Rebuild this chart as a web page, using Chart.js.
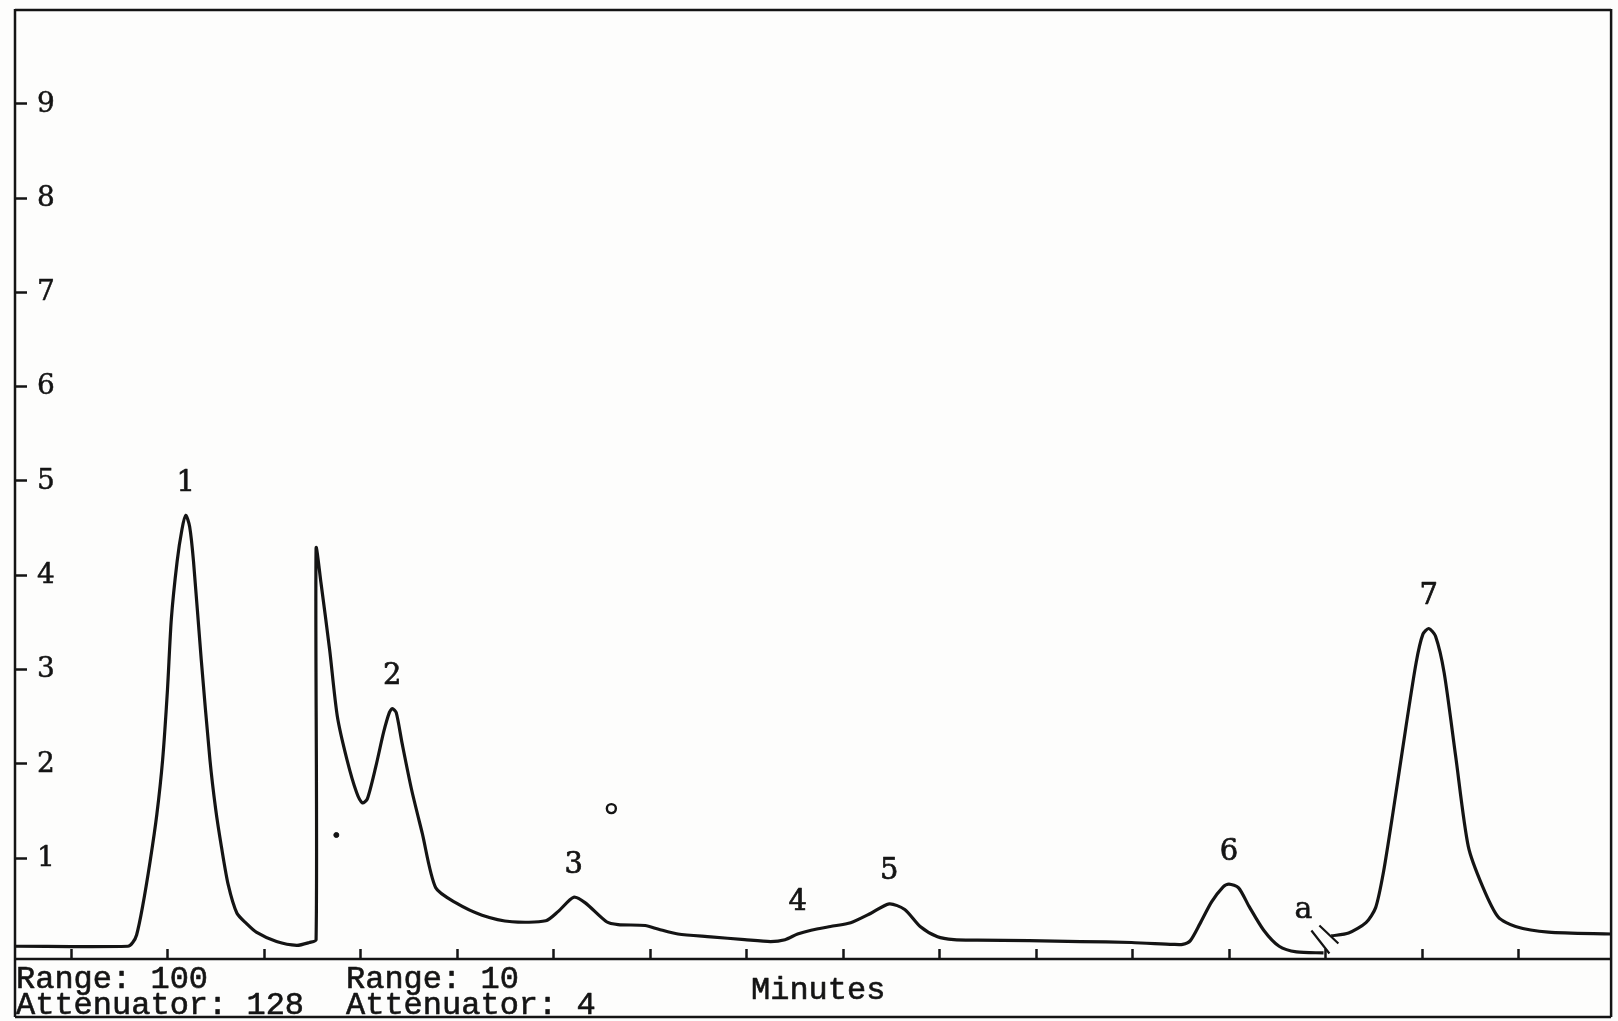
<!DOCTYPE html>
<html>
<head>
<meta charset="utf-8">
<title>Chromatogram</title>
<script src="https://cdn.jsdelivr.net/npm/chart.js@4/dist/chart.umd.min.js"></script>
<style>
  html, body { margin: 0; padding: 0; background: #fdfdfc; }
  canvas { display: block; }
</style>
</head>
<body>
<canvas id="chrom" width="1618" height="1021"></canvas>
<script>
// Recorder trace: retention time (minutes) and detector response (chart divisions).
// A null response lifts the pen where the trace is broken.
const minutes = [
  -0.58, 0.59, 0.64, 0.68, 0.74, 0.82, 0.89, 0.95, 1.00, 1.04, 1.10, 1.15, 1.19, 1.23, 1.27,
  1.35, 1.44, 1.50, 1.56, 1.63, 1.72, 1.82, 1.92, 2.13, 2.34, 2.47, 2.54, 2.54, 2.59, 2.68,
  2.76, 2.86, 2.96, 3.02, 3.07, 3.16, 3.24, 3.30, 3.33, 3.37, 3.43, 3.53, 3.64, 3.78, 3.99,
  4.26, 4.57, 4.92, 5.05, 5.21, 5.33, 5.55, 5.67, 5.95, 6.09, 6.29, 6.63, 6.98, 7.25, 7.40,
  7.53, 7.67, 7.87, 8.08, 8.29, 8.48, 8.64, 8.80, 8.98, 9.15, 9.39, 9.93, 10.46, 10.99, 11.42,
  11.52, 11.60, 11.70, 11.82, 11.94, 12.00, 12.10, 12.21, 12.36, 12.52, 12.70, 12.98, 13.02, 13.06, 13.24,
  13.42, 13.52, 13.60, 13.70, 13.83, 13.94, 14.01, 14.07, 14.14, 14.23, 14.35, 14.48, 14.63, 14.79, 14.97,
  15.31, 15.96
];
const response = [
  0.06, 0.06, 0.10, 0.18, 0.47, 0.96, 1.46, 2.04, 2.78, 3.53, 4.14, 4.48, 4.63, 4.51, 4.14,
  3.10, 2.04, 1.51, 1.11, 0.71, 0.41, 0.30, 0.21, 0.11, 0.07, 0.10, 0.13, 4.28, 3.92, 3.21,
  2.50, 2.04, 1.69, 1.58, 1.62, 1.97, 2.33, 2.54, 2.58, 2.54, 2.22, 1.72, 1.26, 0.68, 0.52,
  0.39, 0.32, 0.33, 0.43, 0.58, 0.52, 0.32, 0.29, 0.28, 0.24, 0.19, 0.16, 0.13, 0.11, 0.13,
  0.19, 0.23, 0.27, 0.31, 0.41, 0.51, 0.45, 0.27, 0.16, 0.13, 0.125, 0.12, 0.11, 0.10, 0.08,
  0.08, 0.12, 0.30, 0.53, 0.69, 0.72, 0.68, 0.48, 0.23, 0.06, 0.00, -0.01, null, 0.17, 0.20,
  0.31, 0.47, 0.84, 1.48, 2.36, 3.07, 3.37, 3.43, 3.35, 2.96, 2.07, 1.12, 0.69, 0.37, 0.27,
  0.21, 0.19
];

// Numbered peaks: retention time and apex height
const peakNames = ['1', '2', '3', '4', '5', '6', '7'];
const peakMinutes = [1.19, 3.33, 5.21, 7.53, 8.48, 12.00, 14.07];
const peakHeights = [4.63, 2.58, 0.58, 0.19, 0.51, 0.72, 3.43];

// Break in the trace, marked "a"
const breakNames = ['a'];
const breakMinutes = [13.02];
const breakLevels = [0.10];

// Small pen marks on the chart paper
const dotMinutes = [2.75];
const dotLevels = [1.24];
const ringMinutes = [5.60];
const ringLevels = [1.52];

// Axis ticks
const xTickMinutes = [0, 1, 2, 3, 4, 5, 6, 7, 8, 9, 10, 11, 12, 13, 14, 15];
const yTickValues = [1, 2, 3, 4, 5, 6, 7, 8, 9];
const yTickLabels = ['1', '2', '3', '4', '5', '6', '7', '8', '9'];

// Instrument settings printed under the time axis
const settingNotes = [
  ['Range: 100', 'Attenuator: 128'],
  ['Range: 10', 'Attenuator: 4']
];
const timeAxisTitle = 'Minutes';

const INK = '#141414';
const SERIF = '"DejaVu Serif", "Liberation Serif", serif';
const MONO = '"Liberation Mono", "DejaVu Sans Mono", monospace';

// filled text with a hairline outline, for the heavier pen lettering
function inkText(ctx, text, x, y, weight) {
  ctx.fillText(text, x, y);
  ctx.lineWidth = weight;
  ctx.strokeText(text, x, y);
}

const recorderPaper = {
  id: 'recorderPaper',
  beforeDraw(chart) {
    const { ctx, width, height } = chart;
    ctx.save();
    ctx.fillStyle = '#fdfdfc';
    ctx.fillRect(0, 0, width, height);
    ctx.restore();
  },
  afterDraw(chart) {
    const { ctx, chartArea: a, scales: { x, y } } = chart;
    const frameBottom = chart.height - 4;
    ctx.save();
    ctx.strokeStyle = INK;
    ctx.fillStyle = INK;
    ctx.lineCap = 'butt';
    ctx.lineJoin = 'round';

    // frame and time axis
    ctx.lineWidth = 2.5;
    ctx.beginPath();
    ctx.moveTo(a.left, a.top + 1); ctx.lineTo(a.right, a.top + 1);
    ctx.moveTo(a.left, a.top); ctx.lineTo(a.left, frameBottom);
    ctx.moveTo(a.right, a.top); ctx.lineTo(a.right, frameBottom);
    ctx.moveTo(a.left, frameBottom); ctx.lineTo(a.right, frameBottom);
    ctx.moveTo(a.left, a.bottom); ctx.lineTo(a.right, a.bottom);
    ctx.stroke();

    // minute ticks, pointing up from the time axis
    ctx.beginPath();
    xTickMinutes.forEach(m => {
      const px = Math.round(x.getPixelForValue(m)) + 0.5;
      ctx.moveTo(px, a.bottom);
      ctx.lineTo(px, a.bottom - 10);
    });
    ctx.stroke();

    // response ticks and their numbers, inside the frame
    ctx.beginPath();
    yTickValues.forEach(v => {
      const py = Math.round(y.getPixelForValue(v)) + 0.5;
      ctx.moveTo(a.left, py);
      ctx.lineTo(a.left + 12, py);
    });
    ctx.stroke();
    ctx.font = '28px ' + SERIF;
    ctx.textAlign = 'left';
    ctx.textBaseline = 'middle';
    yTickValues.forEach((v, i) => {
      inkText(ctx, yTickLabels[i], a.left + 22, y.getPixelForValue(v) + 1, 0.5);
    });

    // peak numbers above each apex
    ctx.font = '29px ' + SERIF;
    ctx.textAlign = 'center';
    peakNames.forEach((name, i) => {
      inkText(ctx, name, x.getPixelForValue(peakMinutes[i]), y.getPixelForValue(peakHeights[i]) - 32, 0.7);
    });

    // break marks "//" with their letter
    breakMinutes.forEach((m, i) => {
      const cx = x.getPixelForValue(m);
      const cy = y.getPixelForValue(breakLevels[i]);
      ctx.lineWidth = 2.2;
      ctx.beginPath();
      ctx.moveTo(cx - 16, cy - 12); ctx.lineTo(cx + 2, cy + 11);
      ctx.moveTo(cx - 8, cy - 17); ctx.lineTo(cx + 11, cy + 1);
      ctx.stroke();
      ctx.font = '30px ' + SERIF;
      ctx.textAlign = 'center';
      inkText(ctx, breakNames[i], cx - 24, cy - 32, 0.6);
    });

    // instrument settings and axis title
    ctx.font = '32px ' + MONO;
    ctx.textAlign = 'left';
    ctx.textBaseline = 'alphabetic';
    const noteX = [a.left + 1, a.left + 331];
    settingNotes.forEach((lines, i) => {
      inkText(ctx, lines[0], noteX[i], a.bottom + 29, 0.6);
      inkText(ctx, lines[1], noteX[i], a.bottom + 55, 0.6);
    });
    inkText(ctx, timeAxisTitle, a.left + 736, a.bottom + 40, 0.6);
    ctx.restore();
  }
};

new Chart(document.getElementById('chrom'), {
  type: 'line',
  data: {
    datasets: [
      {
        label: 'Detector response',
        data: minutes.map((m, i) => ({ x: m, y: response[i] })),
        borderColor: INK,
        borderWidth: 3.2,
        borderJoinStyle: 'round',
        pointRadius: 0,
        tension: 0.25,
        spanGaps: false,
        fill: false
      },
      {
        label: 'dots',
        data: dotMinutes.map((m, i) => ({ x: m, y: dotLevels[i] })),
        showLine: false,
        pointRadius: 2.5,
        pointBackgroundColor: INK,
        pointBorderColor: INK
      },
      {
        label: 'rings',
        data: ringMinutes.map((m, i) => ({ x: m, y: ringLevels[i] })),
        showLine: false,
        pointRadius: 4.5,
        pointBorderWidth: 2.4,
        pointBackgroundColor: 'rgba(0,0,0,0)',
        pointBorderColor: INK
      }
    ]
  },
  options: {
    responsive: false,
    animation: false,
    devicePixelRatio: 1,
    events: [],
    layout: { padding: { left: 15, top: 9, right: 2, bottom: 62 } },
    plugins: { legend: { display: false }, tooltip: { enabled: false } },
    scales: {
      x: { type: 'linear', min: -0.58, max: 15.96, display: false },
      y: { type: 'linear', min: -0.075, max: 10, display: false }
    }
  },
  plugins: [recorderPaper]
});
</script>
</body>
</html>
